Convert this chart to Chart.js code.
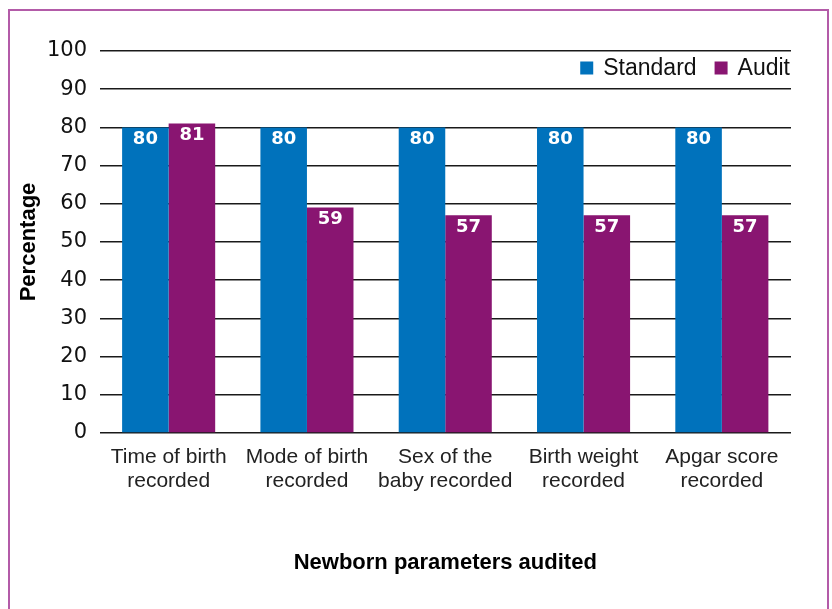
<!DOCTYPE html>
<html><head><meta charset="utf-8">
<script src="https://cdn.jsdelivr.net/npm/chart.js@4"></script>
<style>
html,body{margin:0;padding:0;background:#fff;}
#wrap{position:relative;width:832px;height:609px;overflow:hidden;background:#fff;}
#frame{position:absolute;left:8px;top:9px;width:817px;height:700px;border:2px solid #b35ba8;border-bottom:none;}
canvas{position:absolute;left:0;top:0;}
</style></head><body>
<div id="wrap"><div id="frame"></div><canvas id="c" width="832" height="609"></canvas></div>
<script>
const categories = [['Time of birth','recorded'],['Mode of birth','recorded'],['Sex of the','baby recorded'],['Birth weight','recorded'],['Apgar score','recorded']];
const standardValues = [80, 80, 80, 80, 80];
const auditValues = [81, 59, 57, 57, 57];
const seriesNames = ['Standard', 'Audit'];
const seriesColors = ['#0072bc', '#891571'];
const yMin = 0, yMax = 100, yStep = 10;

const valueLabels = {
  id: 'valueLabels',
  afterDatasetsDraw(chart) {
    const ctx = chart.ctx;
    ctx.save();
    ctx.fillStyle = '#fff';
    ctx.font = 'bold 18px "DejaVu Sans"';
    ctx.textAlign = 'center';
    ctx.textBaseline = 'middle';
    chart.data.datasets.forEach((ds, di) => {
      chart.getDatasetMeta(di).data.forEach((el, i) => {
        ctx.fillText(String(ds.data[i]), el.x, el.y + 12);
      });
    });
    ctx.restore();
  }
};

// legend drawn inside the plot area, top right, from the datasets
const insideLegend = {
  id: 'insideLegend',
  afterDraw(chart) {
    const ctx = chart.ctx;
    const area = chart.chartArea;
    const box = 13, gapText = 10, gapItem = 18;
    const cy = area.top + 17;
    ctx.save();
    ctx.font = '23px "Liberation Sans"';
    ctx.textBaseline = 'middle';
    ctx.textAlign = 'left';
    const items = chart.data.datasets.map(ds => ({ text: ds.label, color: ds.backgroundColor, w: ctx.measureText(ds.label).width }));
    let total = 0;
    items.forEach((it, i) => { total += box + gapText + it.w + (i ? gapItem : 0); });
    let x = area.right - 1 - total;
    items.forEach((it, i) => {
      if (i) x += gapItem;
      ctx.fillStyle = it.color;
      ctx.fillRect(x, cy - box / 2, box, box);
      x += box + gapText;
      ctx.fillStyle = '#111';
      ctx.fillText(it.text, x, cy + 1);
      x += it.w;
    });
    ctx.restore();
  }
};

new Chart(document.getElementById('c'), {
  type: 'bar',
  data: {
    labels: categories,
    datasets: [
      { label: seriesNames[0], data: standardValues, backgroundColor: seriesColors[0], borderWidth: 0, barPercentage: 1, categoryPercentage: 0.673 },
      { label: seriesNames[1], data: auditValues, backgroundColor: seriesColors[1], borderWidth: 0, barPercentage: 1, categoryPercentage: 0.673 }
    ]
  },
  options: {
    responsive: false,
    animation: false,
    devicePixelRatio: 1,
    layout: { padding: { left: 10, top: 51, right: 41, bottom: 28 } },
    plugins: {
      tooltip: { enabled: false },
      legend: { display: false }
    },
    scales: {
      x: {
        grid: { display: false },
        border: { display: false },
        ticks: { color: '#222', padding: 4, maxRotation: 0, autoSkip: false,
          font: { family: 'Liberation Sans', size: 21, lineHeight: 1.15 } },
        title: { display: true, text: 'Newborn parameters audited', color: '#000',
          font: { family: 'Liberation Sans', size: 22, weight: 'bold' }, padding: { top: 0, bottom: 5 } },
        afterFit(s) { s.height = 148; }
      },
      y: {
        min: yMin, max: yMax,
        ticks: { stepSize: yStep, color: '#111', padding: 12.5,
          font: { family: 'DejaVu Sans', size: 21 } },
        grid: { color: '#1a1a1a', lineWidth: 1.6, drawTicks: false },
        border: { display: false },
        title: { display: true, text: 'Percentage', color: '#000',
          font: { family: 'Liberation Sans', size: 22, weight: 'bold' }, padding: { top: 6, bottom: 0 } },
        afterFit(s) { s.width = 89.5; }
      }
    }
  },
  plugins: [valueLabels, insideLegend]
});
</script>
</body></html>
